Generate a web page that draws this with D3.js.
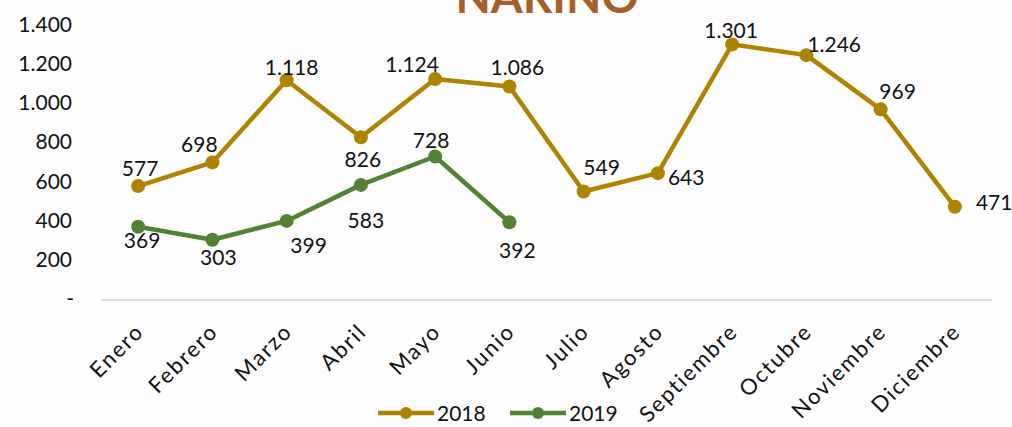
<!DOCTYPE html>
<html>
<head>
<meta charset="utf-8">
<script src="https://cdn.jsdelivr.net/npm/d3@7"></script>
<style>
  body { margin: 0; background: #fdfdfd; }
  svg { display: block; font-family: Lato, "Open Sans", sans-serif; }
</style>
</head>
<body>
<script>
    // Chart data
    const months = ["Enero", "Febrero", "Marzo", "Abril", "Mayo", "Junio",
        "Julio", "Agosto", "Septiembre", "Octubre", "Noviembre", "Diciembre"];
    const values2018 = [577, 698, 1118, 826, 1124, 1086, 549, 643, 1301, 1246, 969, 471];
    const values2019 = [369, 303, 399, 583, 728, 392];
    const yTicks = [0, 200, 400, 600, 800, 1000, 1200, 1400];

    // label nudges [dx, dy, anchor] relative to each point (Excel put them by hand)
    const labelNudge2018 = [[2, -10, "middle"], [-13, -10, "middle"], [5, -5, "middle"], [2, 30, "middle"],
        [-23, -7, "middle"], [8, -11, "middle"], [18, -17, "middle"], [10, 12, "start"],
        [-1, -6, "middle"], [1, -3, "start"], [17, -10, "middle"], [21, 3, "start"]];
    const labelNudge2019 = [[4, 21, "middle"], [6, 25, "middle"], [22, 32, "middle"],
        [5, 43, "middle"], [-4, -9, "middle"], [8, 36, "middle"]];

    const width = 1012, height = 427;
    const color2018 = "#AE8300";
    const color2019 = "#538234";

    const svg = d3.select("body").append("svg")
        .attr("width", width)
        .attr("height", height);

    svg.append("rect").attr("width", width).attr("height", height).attr("fill", "#fdfdfd");

    const x = d3.scaleBand().domain(months).range([101, 992]);
    const y = d3.scaleLinear().domain([0, 1400]).range([299, 25]);
    const cx = m => x(m) + x.bandwidth() / 2;

    const fmt = v => v === 0 ? "-" : d3.format(",")(v).replace(/,/g, ".");

    // Title (clipped at the top like the original)
    svg.append("text")
        .attr("x", 547)
        .attr("y", 13)
        .attr("text-anchor", "middle")
        .attr("font-size", "46px")
        .attr("font-weight", "bold")
        .attr("fill", "#A4602A")
        .text("NARIÑO");

    // Y axis labels
    svg.selectAll(".ytick")
        .data(yTicks)
        .enter()
        .append("text")
        .attr("x", d => d === 0 ? 74 : 72)
        .attr("y", d => y(d) + 7)
        .attr("text-anchor", "end")
        .attr("font-size", "21px")
        .attr("fill", "#111")
        .text(fmt);

    // Baseline
    svg.append("line")
        .attr("x1", 101).attr("x2", 992)
        .attr("y1", y(0) + 1).attr("y2", y(0) + 1)
        .attr("stroke", "#d9d9d9")
        .attr("stroke-width", 1.5);

    // X axis labels
    svg.selectAll(".xtick")
        .data(months)
        .enter()
        .append("text")
        .attr("transform", d => `translate(${cx(d) + 7},${y(0) + 34}) rotate(-45)`)
        .attr("text-anchor", "end")
        .attr("font-size", "22px")
        .attr("letter-spacing", "1.8px")
        .attr("fill", "#111")
        .text(d => d);

    const line = d3.line()
        .x((d, i) => cx(months[i]))
        .y(d => y(d));

    function drawSeries(values, color, nudge) {
        svg.append("path")
            .datum(values)
            .attr("d", line)
            .attr("fill", "none")
            .attr("stroke", color)
            .attr("stroke-width", 4.5)
            .attr("stroke-linejoin", "round");

        svg.selectAll(null)
            .data(values)
            .enter()
            .append("circle")
            .attr("cx", (d, i) => cx(months[i]))
            .attr("cy", d => y(d))
            .attr("r", 7)
            .attr("fill", color);

        svg.selectAll(null)
            .data(values)
            .enter()
            .append("text")
            .attr("x", (d, i) => cx(months[i]) + nudge[i][0])
            .attr("y", (d, i) => y(d) + nudge[i][1])
            .attr("text-anchor", (d, i) => nudge[i][2])
            .attr("font-size", "21px")
            .attr("fill", "#111")
            .text(fmt);
    }

    drawSeries(values2018, color2018, labelNudge2018);
    drawSeries(values2019, color2019, labelNudge2019);

    // Legend
    const legend = [
        { name: "2018", color: color2018, x: 378 },
        { name: "2019", color: color2019, x: 510 }
    ];
    legend.forEach(l => {
        const g = svg.append("g").attr("transform", `translate(${l.x},413)`);
        g.append("line").attr("x1", 0).attr("x2", 56).attr("stroke", l.color).attr("stroke-width", 4.5);
        g.append("circle").attr("cx", 28).attr("r", 6).attr("fill", l.color);
        g.append("text").attr("x", 59).attr("y", 8).attr("font-size", "21px").attr("fill", "#111").text(l.name);
    });
</script>
</body>
</html>
